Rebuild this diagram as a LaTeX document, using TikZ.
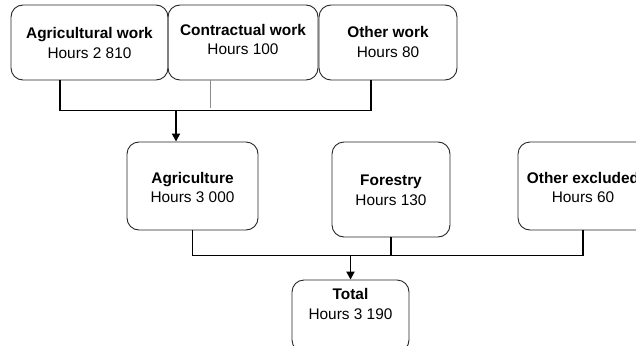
\documentclass[tikz,border=0pt]{standalone}
\usepackage{fontspec}
\setmainfont{Liberation Sans}
\usetikzlibrary{arrows.meta}
\begin{document}
\begin{tikzpicture}[x=1pt,y=-1pt,
 box/.style={draw=black!85, line width=0.9pt, rounded corners=12pt, inner sep=0pt},
 lbl/.style={align=center, font=\fontsize{15.4}{19.5}\selectfont, inner sep=0pt},
 conn/.style={line width=1.8pt, black},
 arr/.style={conn, -{Triangle[length=8pt,width=8pt]}},
 faint/.style={line width=0.8pt, black!45}]
\useasboundingbox (0,0) rectangle (636,345);
\begin{scope}
\clip (0,0) rectangle (636,345);
% top row
\node[box, minimum width=157pt, minimum height=75pt] (b1) at (89.5,42.5) {};
\node[box, minimum width=150pt, minimum height=75pt] (b2) at (243,42.5) {};
\node[box, minimum width=138pt, minimum height=75pt] (b3) at (388,42.5) {};
\node[lbl] (t1) at (89.5,43) {\textbf{Agricultural work}\\Hours 2 810};
\node[lbl] (t2) at (243,39.5) {\textbf{Contractual work}\\Hours 100};
\node[lbl] (t3) at (388,42) {\textbf{Other work}\\Hours 80};
% middle row
\node[box, minimum width=131pt, minimum height=88pt] (agri) at (192.5,186) {};
\node[box, minimum width=118pt, minimum height=95pt] (fore) at (391,189.5) {};
\node[box, minimum width=130pt, minimum height=88pt] (oth) at (583,186) {};
\node[lbl] (t4) at (192.5,187.5) {\textbf{Agriculture}\\Hours 3 000};
\node[lbl] (t5) at (391,190.5) {\textbf{Forestry}\\Hours 130};
\node[lbl] (t6) at (583,187.5) {\textbf{Other excluded}\\Hours 60};
% bottom
\node[box, minimum width=117pt, minimum height=72pt] (tot) at (350.5,316) {};
\node[lbl] (t7) at (350.5,304) {\textbf{Total}\\Hours 3 190};
% connectors
\coordinate (j1) at (176,110);
\coordinate (j2) at (350.5,255);
\draw[conn] ([xshift=-29.5]b1.south) -- ++(0,30) -| ([xshift=-17]b3.south);
\draw[faint] ([xshift=-33]b2.south) -- ++(0,28);
\draw[arr] (j1) -- (j1 |- agri.north);
\draw[conn] (agri.south) -- ++(0,25) -| (oth.south);
\draw[conn] (fore.south) -- ++(0,18);
\draw[arr] (j2) -- (tot.north);
\end{scope}
\end{tikzpicture}
\end{document}
